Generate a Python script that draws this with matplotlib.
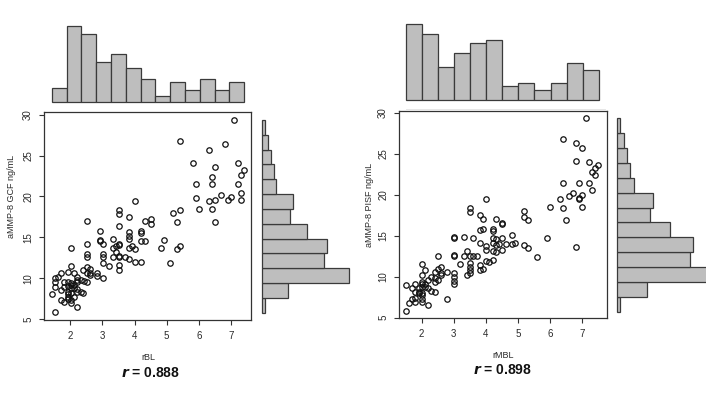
import matplotlib
matplotlib.use('Agg')
import matplotlib.pyplot as plt
import numpy as np

plt.rcParams['font.family'] = ['Liberation Sans', 'DejaVu Sans']

W, H = 706, 399

# ---- dati
# (rBL, aMMP-8 GCF)
punti_gcf = [
    (7.10, 29.35), (5.41, 26.82), (6.81, 26.37), (6.32, 25.68), (5.81, 24.13), (7.21, 24.05),
    (6.51, 23.60), (7.41, 23.19), (7.30, 22.66), (6.41, 22.37), (5.91, 21.48), (6.41, 21.48),
    (7.21, 21.48), (6.70, 20.21), (7.31, 20.46), (7.01, 19.89), (6.90, 19.60), (5.91, 19.80),
    (6.32, 19.48), (6.51, 19.60), (7.30, 19.60), (6.01, 18.50), (6.41, 18.50), (6.51, 16.91),
    (5.41, 18.38), (5.21, 18.01), (5.31, 16.91), (5.41, 13.93), (5.31, 13.52), (5.11, 11.81),
    (4.91, 14.67), (4.81, 13.73), (4.01, 19.44), (4.31, 17.03), (4.52, 17.28), (4.52, 16.58),
    (3.51, 18.34), (3.51, 17.85), (3.82, 17.48), (3.51, 16.42), (2.52, 17.03), (2.91, 15.81),
    (3.82, 15.69), (4.21, 15.81), (4.21, 15.56), (3.82, 15.15), (3.82, 14.75), (2.91, 14.67),
    (2.91, 14.54), (4.21, 14.54), (4.31, 14.54), (3.02, 14.18), (3.51, 14.18), (3.51, 14.01),
    (3.32, 14.83), (3.41, 13.97), (3.91, 13.97), (4.01, 13.60), (3.82, 13.69), (3.32, 13.73),
    (3.41, 13.24), (3.51, 12.67), (3.71, 12.55), (3.32, 12.63), (3.51, 12.55), (3.82, 12.38),
    (3.02, 12.99), (3.02, 12.63), (3.02, 11.81), (4.01, 12.01), (4.21, 12.01), (3.21, 11.48),
    (3.51, 11.61), (3.51, 11.00), (2.52, 14.13), (2.52, 12.95), (2.52, 12.55), (2.02, 13.69),
    (2.02, 11.53), (2.52, 11.40), (2.62, 11.16), (2.62, 10.59), (2.62, 10.34), (2.82, 10.67),
    (2.82, 10.26), (3.02, 9.98), (2.41, 10.95), (2.52, 10.59), (1.72, 10.67), (1.52, 9.98),
    (1.52, 9.57), (1.62, 10.18), (1.92, 10.75), (2.11, 10.67), (2.22, 10.18), (2.32, 9.77),
    (2.43, 9.65), (2.53, 9.53), (2.22, 9.77), (2.22, 9.53), (1.81, 9.57), (1.92, 9.57),
    (2.02, 9.45), (2.02, 9.12), (1.92, 9.04), (2.11, 9.12), (1.52, 8.96), (1.72, 8.55),
    (1.81, 8.96), (2.02, 8.75), (2.11, 8.75), (2.22, 8.67), (2.32, 8.30), (2.41, 8.22),
    (2.22, 8.26), (1.92, 8.34), (2.02, 8.14), (1.92, 8.02), (1.42, 8.02), (1.72, 7.32),
    (1.81, 7.08), (1.92, 7.41), (2.02, 7.00), (2.02, 7.32), (2.22, 6.51), (1.52, 5.86),
    (1.92, 7.73), (2.11, 7.73),
]
# (rMBL, aMMP-8 PISF)
punti_pisf = [
    (7.10, 29.35), (6.41, 26.82), (6.80, 26.38), (7.00, 25.68), (6.80, 24.14), (7.20, 24.06),
    (7.50, 23.65), (7.39, 23.24), (7.30, 22.79), (7.39, 22.39), (6.41, 21.49), (6.90, 21.49),
    (7.20, 21.49), (7.30, 20.55), (6.70, 20.27), (6.60, 19.86), (7.00, 19.94), (6.90, 19.58),
    (6.30, 19.50), (6.90, 19.50), (6.00, 18.48), (6.41, 18.35), (7.00, 18.52), (6.50, 16.93),
    (6.80, 13.67), (5.20, 18.07), (5.20, 17.26), (5.30, 16.93), (5.90, 14.69), (5.60, 12.37),
    (5.20, 13.84), (5.30, 13.55), (4.00, 19.45), (3.50, 18.40), (3.50, 17.90), (3.80, 17.50),
    (3.91, 17.05), (4.30, 17.05), (4.51, 16.60), (4.51, 16.44), (3.31, 14.89), (3.61, 14.73),
    (3.80, 15.71), (3.91, 15.79), (4.21, 15.79), (4.21, 15.59), (3.01, 14.89), (3.01, 14.77),
    (4.21, 14.69), (4.30, 14.57), (4.51, 14.77), (4.81, 15.14), (3.80, 14.08), (3.41, 13.18),
    (4.00, 13.75), (4.00, 13.27), (4.21, 14.08), (4.30, 13.84), (4.40, 14.00), (4.61, 14.00),
    (4.81, 14.00), (4.90, 14.16), (4.51, 13.27), (4.21, 13.14), (4.30, 13.06), (3.31, 12.53),
    (3.50, 12.53), (3.71, 12.53), (3.61, 12.53), (3.50, 11.64), (3.50, 11.23), (3.01, 12.65),
    (3.01, 12.53), (4.00, 11.92), (4.21, 12.04), (4.11, 11.80), (3.80, 11.47), (3.91, 10.94),
    (3.80, 10.82), (3.50, 10.82), (3.50, 10.42), (3.20, 11.56), (3.41, 10.17), (3.01, 10.42),
    (3.01, 9.93), (3.01, 9.52), (3.01, 9.11), (2.51, 12.53), (2.80, 10.62), (2.51, 10.90),
    (2.40, 10.58), (2.60, 11.15), (2.60, 10.42), (2.60, 10.17), (2.80, 7.32), (2.00, 11.56),
    (2.00, 10.20), (2.11, 10.77), (1.80, 8.18), (1.50, 8.95), (1.71, 8.58), (1.80, 9.07),
    (2.00, 9.40), (2.00, 9.07), (2.00, 8.79), (2.10, 8.79), (2.21, 9.60), (2.30, 9.97),
    (2.40, 9.80), (2.51, 9.60), (2.40, 9.40), (2.21, 8.58), (2.30, 8.30), (2.40, 8.18),
    (1.91, 8.18), (2.00, 8.05), (1.91, 7.97), (2.00, 7.73), (2.00, 7.28), (2.00, 6.95),
    (1.80, 7.36), (1.71, 7.24), (1.80, 6.91), (1.61, 6.83), (2.21, 6.55), (1.50, 5.86),
    (2.10, 9.07), (1.91, 8.58),
]

# istogrammi marginali (conteggi)
conteggi_rbl = [5, 27, 24, 14, 17, 12, 8, 2, 7, 4, 8, 4, 7]
conteggi_rmbl = [23, 20, 10, 14, 17, 18, 4, 5, 3, 5, 11, 9]
conteggi_y = [1, 9, 31, 22, 23, 16, 10, 11, 5, 4, 3, 2, 1]  # dal basso verso l'alto

x_ticks = [2, 3, 4, 5, 6, 7]
y_ticks = [5, 10, 15, 20, 25, 30]

# posizioni in pixel (x0, y0, x1, y1) misurate sull'immagine
pannelli = [
    dict(punti=punti_gcf, xlab='rBL', ylab='aMMP-8 GCF ng/mL', r='0.888', xc=conteggi_rbl,
         box=(44, 112, 251, 320), xlim=(1.182, 7.622), ylim=(4.88, 30.33),
         top=(51.7, 10, 244.3, 101.7), unit=2.81, right=(262.3, 120, 352, 312.7),
         ylab_x=11.7, ylab_y=238, xlab_x=141, xlab_y=357, r_x=151, r_y=373),
    dict(punti=punti_pisf, xlab='rMBL', ylab='aMMP-8 PISF ng/mL', r='0.898', xc=conteggi_rmbl,
         box=(399, 111, 606.7, 318), xlim=(1.293, 7.76), ylim=(4.96, 30.24),
         top=(406, 10, 598.7, 99.7), unit=3.31, right=(617, 118.3, 706, 311.7),
         ylab_x=370, ylab_y=247, xlab_x=492, xlab_y=355, r_x=503, r_y=370),
]

fig = plt.figure(figsize=(W / 100, H / 100), dpi=100)


def assi(x0, y0, x1, y1):
    return fig.add_axes([x0 / W, 1 - y1 / H, (x1 - x0) / W, (y1 - y0) / H])


grigio = '#bebebe'
bordo = '#3a3a3a'
testo = '#2a2a2a'

for p in pannelli:
    # scatter
    ax = assi(*p['box'])
    xs = [q[0] for q in p['punti']]
    ys = [q[1] for q in p['punti']]
    ax.plot(xs, ys, 'o', mfc='none', mec='#111111', ms=3.9, mew=0.9)
    ax.set_xlim(p['xlim'])
    ax.set_ylim(p['ylim'])
    ax.set_xticks(x_ticks)
    ax.set_xticklabels([str(v) for v in x_ticks])
    ax.set_yticks(y_ticks)
    ax.set_yticklabels([str(v) for v in y_ticks], rotation=90, va='center')
    ax.tick_params(direction='out', length=3.6, width=0.8, color='#333333',
                   labelsize=7, labelcolor=testo)
    ax.tick_params(axis='x', pad=4.5)
    ax.tick_params(axis='y', pad=4.2)
    for s in ax.spines.values():
        s.set_linewidth(0.9)
        s.set_color('#333333')

    # istogramma sopra
    x0, y0, x1, y1 = p['top']
    axt = assi(x0, y0, x1, y1)
    n = len(p['xc'])
    axt.bar(np.arange(n), p['xc'], width=1, align='edge', color=grigio,
            edgecolor=bordo, linewidth=0.9, clip_on=False)
    axt.set_xlim(0, n)
    axt.set_ylim(0, (y1 - y0) / p['unit'])
    axt.axis('off')

    # istogramma a destra
    x0, y0, x1, y1 = p['right']
    axr = assi(x0, y0, x1, y1)
    m = len(conteggi_y)
    axr.barh(np.arange(m), conteggi_y, height=1, align='edge', color=grigio,
             edgecolor=bordo, linewidth=0.9, clip_on=False)
    axr.set_ylim(0, m)
    axr.set_xlim(0, (x1 - x0) / p['unit'])
    axr.axis('off')

    # testi
    fig.text(p['ylab_x'] / W, 1 - p['ylab_y'] / H, p['ylab'], rotation=90,
             ha='center', va='bottom', fontsize=6.5, color=testo)
    fig.text(p['xlab_x'] / W, 1 - p['xlab_y'] / H, p['xlab'], ha='left',
             va='center', fontsize=6.5, color=testo)
    fig.text(p['r_x'] / W, 1 - p['r_y'] / H, '$\\mathbfit{r}$ = ' + p['r'],
             ha='center', va='center', fontsize=10, fontweight='bold', color='#111111')

# riga grigio chiaro sotto l'istogramma di destra
fig.add_artist(plt.Line2D([406 / W, 605 / W], [1 - 108.5 / H, 1 - 108.5 / H],
                          color='#e6e6e6', linewidth=0.7))

fig.savefig('out.png', dpi=100)
